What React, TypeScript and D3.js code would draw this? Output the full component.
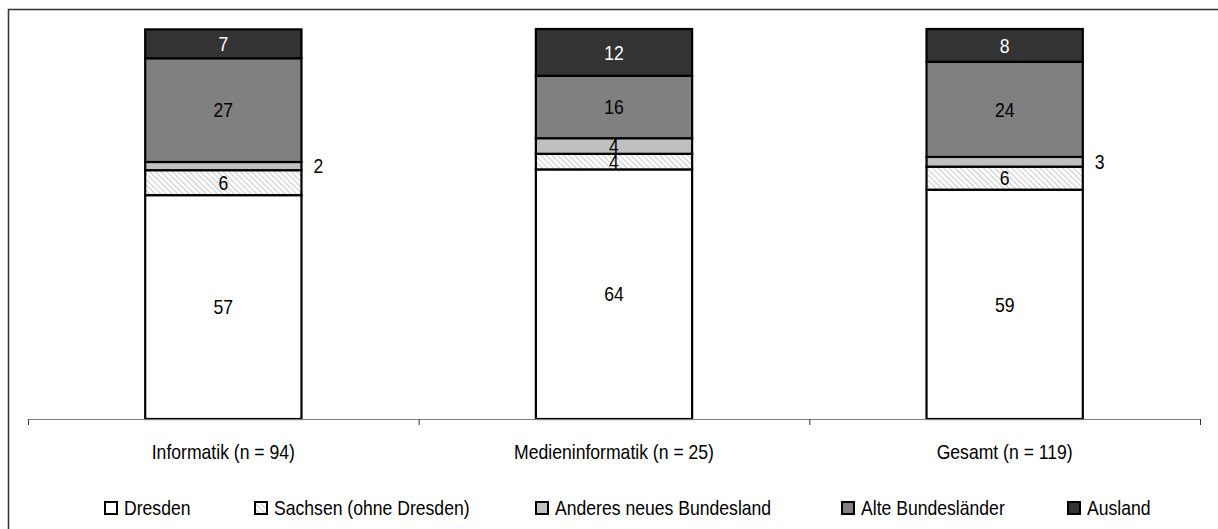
import React from "react";
import * as d3 from "d3";

const categories = ["Informatik (n = 94)", "Medieninformatik (n = 25)", "Gesamt (n = 119)"];
const seriesNames = ["Dresden", "Sachsen (ohne Dresden)", "Anderes neues Bundesland", "Alte Bundesländer", "Ausland"];
const dresden = [57.4, 64, 58.8];
const sachsen = [6.4, 4, 5.9];
const anderes = [2.1, 4, 2.5];
const alte = [26.6, 16, 24.4];
const ausland = [7.4, 12, 8.4];
const outsideLabel = [false, false, true, false, false];
const fills = ["#ffffff", "url(#hatch)", "#c0c0c0", "#808080", "#333333"];
const textColors = ["#000", "#000", "#000", "#000", "#fff"];

const FONT = "'Liberation Sans Narrow', 'Arial Narrow', 'Liberation Sans', Arial, sans-serif";
const SX = 0.88;

function T({ x, y, anchor = "start", fill = "#000", children }: any) {
  return (
    <text
      transform={`translate(${x},${y}) scale(${SX},1)`}
      dy="0.36em"
      textAnchor={anchor}
      fontSize={20}
      fill={fill}
    >
      {children}
    </text>
  );
}

export default function App() {
  const W = 1218, H = 529;
  const x = d3.scaleBand<string>().domain(categories).range([28, 1200]).padding(0);
  const y = d3.scaleLinear().domain([0, 100]).range([419, 29]);
  const barW = x.bandwidth() * 0.4;
  const rows = categories.map((c, i) => {
    const r: any = { cat: c };
    const vals = [dresden[i], sachsen[i], anderes[i], alte[i], ausland[i]];
    seriesNames.forEach((s, j) => (r[s] = vals[j]));
    return r;
  });
  const stacked = d3.stack<any>().keys(seriesNames)(rows);
  const tickXs = [28, ...categories.map((c) => (x(c) as number) + x.bandwidth())];
  const legendX = [104, 254, 535, 841, 1067];

  return (
    <svg width={W} height={H} style={{ position: "absolute", left: 0, top: 0 }} fontFamily={FONT}>
      <defs>
        <pattern id="hatch" patternUnits="userSpaceOnUse" width="4" height="4" patternTransform="rotate(-45)">
          <rect width="4" height="4" fill="#fff" />
          <line x1="0" y1="0" x2="0" y2="4" stroke="#bdbdbd" strokeWidth="1.6" />
        </pattern>
      </defs>
      <rect x={0} y={0} width={W} height={H} fill="#fff" />
      <rect x={8.5} y={9.5} width={W + 10} height={H + 10} fill="none" stroke="#333" strokeWidth={1.5} />
      {stacked.map((layer, j) =>
        layer.map((d, i) => {
          const cx = (x(categories[i]) as number) + x.bandwidth() / 2;
          const y0 = y(d[0]);
          const y1 = y(d[1]);
          return (
            <rect key={`${j}-${i}`} x={cx - barW / 2} y={y1} width={barW} height={y0 - y1} fill={fills[j]} stroke="#000" strokeWidth={2.2} />
          );
        })
      )}
      {stacked.map((layer, j) =>
        layer.map((d, i) => {
          const cx = (x(categories[i]) as number) + x.bandwidth() / 2;
          const y0 = y(d[0]);
          const y1 = y(d[1]);
          const v = d[1] - d[0];
          const outside = outsideLabel[j] && v < 3;
          return (
            <T
              key={`t${j}-${i}`}
              x={outside ? cx + barW / 2 + 12 : cx}
              y={(y0 + y1) / 2}
              anchor={outside ? "start" : "middle"}
              fill={outside ? "#000" : textColors[j]}
            >
              {String(Math.round(v))}
            </T>
          );
        })
      )}
      <line x1={28} x2={1200} y1={419.5} y2={419.5} stroke="#808080" strokeWidth={1} />
      {tickXs.map((tx, i) => (
        <line key={i} x1={tx + 0.5} x2={tx + 0.5} y1={419} y2={425} stroke="#333" strokeWidth={1} />
      ))}
      {categories.map((c) => (
        <T key={c} x={(x(c) as number) + x.bandwidth() / 2} y={452} anchor="middle">
          {c}
        </T>
      ))}
      {seriesNames.map((s, j) => (
        <g key={s}>
          <rect x={legendX[j] + 1} y={502} width={12} height={12} fill={fills[j]} stroke="#000" strokeWidth={2} />
          <T x={legendX[j] + 20} y={508}>
            {s}
          </T>
        </g>
      ))}
    </svg>
  );
}
